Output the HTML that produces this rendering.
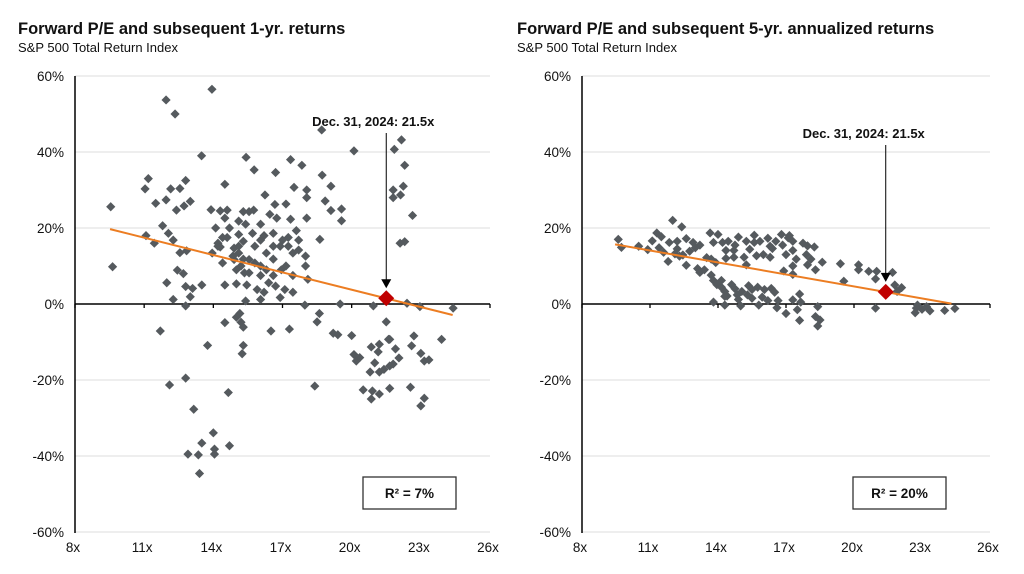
<!DOCTYPE html>
<html><head><meta charset="utf-8"><style>
body{margin:0;background:#fff;width:1024px;height:574px;overflow:hidden;font-family:"Liberation Sans",Arial,sans-serif}
svg{position:absolute;left:0;top:0}
</style></head><body>
<svg id="c" width="1024" height="574">
<text x="18" y="34" font-size="16.5" font-weight="bold" fill="#111">Forward P/E and subsequent 1-yr. returns</text>
<text x="18" y="52" font-size="13" fill="#111">S&amp;P 500 Total Return Index</text>
<text x="517" y="34" font-size="16.5" font-weight="bold" fill="#111">Forward P/E and subsequent 5-yr. annualized returns</text>
<text x="517" y="52" font-size="13" fill="#111">S&amp;P 500 Total Return Index</text>
</svg>
<script>
const xTicks=[8,11,14,17,20,23,26];
const yTicks=[60,40,20,0,-20,-40,-60];
const leftPE=[9.55,9.63,11.95,12.34,13.94,13.49,11.18,11.04,12.8,12.55,12.15,11.95,11.5,13.0,12.4,12.73,11.8,11.08,11.44,12.05,12.26,12.55,12.84,12.44,12.7,11.98,12.8,13.1,13.5,13.0,12.26,12.8,14.5,15.42,15.77,16.7,17.35,17.84,18.7,18.72,19.1,20.1,18.85,19.1,19.56,19.56,18.62,17.5,18.05,18.05,17.15,16.24,16.67,21.85,22.16,22.3,22.24,21.8,22.12,21.8,22.64,22.1,22.3,22.4,22.96,24.4,20.94,19.5,17.97,
14.2,14.3,14.6,14.9,15.1,15.3,15.55,15.8,16.05,16.3,16.6,16.9,17.15,17.45,17.7,18,18.1,14.5,14.7,15.1,15.55,15.75,16.05,16.45,16.75,17.35,17.6,18.05,14.1,13.9,14.3,14.6,15.3,15.4,16.2,16.6,17,14.9,15.2,15.55,16.05,16.4,16.7,17.1,17.45,16.9,16.2,16.05,15.4,15,14.5,15.45,15.9,16.6,15,14.2,13.95,15.1,15.7,16.05,17.25,17.7,18,17.45,16.95,14.4,15.3,15.8,16.3,16.6,17.25,14.85,15.1,14.4,15.35,
11.7,15.15,15.0,15.2,15.3,14.5,13.75,15.3,15.25,16.5,17.3,18.6,18.5,19.2,19.4,20.0,20.1,20.2,20.35,20.85,21.2,21.15,21,20.8,21.2,21.4,21.65,21.8,21.9,21.6,21.65,21.5,22.05,22.7,22.6,23,23.15,23.35,23.9,20.5,20.85,20.9,21.2,21.65,22.55,23.15,23.0,18.4,12.1,12.8,13.15,14.65,14.0,13.5,12.9,13.35,14.05,14.05,14.7,13.4];
const leftRet=[25.6,9.8,53.7,50,56.5,39,33,30.3,32.5,30.4,30.3,27.4,26.5,27,24.7,25.8,20.6,18,16,18.6,16.8,13.5,14,8.9,8,5.6,4.6,4.1,5,1.9,1.2,-0.5,31.5,38.6,35.3,34.6,38,36.5,45.8,33.9,31,40.3,27.1,24.6,25,21.9,17,30.7,30,28,26.3,28.7,26.2,40.7,43.2,36.5,31,30,28.7,28,23.3,16,16.4,0.2,-0.7,-1.1,-0.5,0,-0.3,
16,15,17.5,14.7,13.4,16.5,11.7,15.2,10,13.4,11.8,15.2,10,13.4,16.8,10,6.5,22.6,20,21.8,24.3,24.7,21,23.6,22.6,22.3,19.3,22.6,20,24.8,24.5,24.7,24.3,21,18,18.6,16.8,11.7,10,8.2,7.5,5.6,4.7,3.8,3.1,1.7,3.1,1.2,0.8,5.3,5,5,3.8,7.5,9,15.2,13.4,18.3,18.6,16.8,17.5,14.2,12.6,7.5,9,17.5,11.8,10.8,9,15.2,15.2,12.6,15.2,10.8,8.2,
-7.1,-2.5,-3.5,-4.8,-6.1,-4.9,-10.9,-10.9,-13.1,-7.1,-6.6,-2.5,-4.7,-7.7,-8.1,-8.3,-13.3,-15,-14.1,-11.3,-10.6,-12.6,-15.5,-17.9,-17.9,-17.2,-16.3,-15.8,-11.8,-9.3,-9.3,-4.7,-14.2,-8.4,-11,-13,-15,-14.7,-9.3,-22.6,-25,-22.9,-23.7,-22.2,-21.9,-24.8,-26.8,-21.6,-21.3,-19.5,-27.7,-23.3,-33.9,-36.6,-39.5,-39.7,-38.2,-39.5,-37.3,-44.6];
const rightPE=[9.6,9.74,12.0,12.4,11.3,11.5,11.1,11.4,11.85,12.2,12.6,12.9,13.2,12.75,12.45,12.1,11.8,12.6,13.1,13.2,13.4,13.7,13.65,14.0,13.8,14.2,14.45,14.75,14.7,14.35,15.25,15.6,15.85,15.4,15.7,16.0,15.25,16.3,16.55,16.8,17.15,16.85,17.3,17.0,17.3,17.45,17.75,17.95,18.25,17.9,18.1,17.95,18.3,18.6,16.9,17.3,17.3,16.3,14.7,15.15,14.35,19.4,20.2,20.2,20.65,21,21.7,19.55,20.95,21.8,21.9,22.1,20.95,22.75,22.7,23.0,23.2,23.35,24.0,24.45,22.8,
13.7,13.8,13.95,14.15,14.3,14.6,14.75,15.05,15.35,15.5,15.75,16.05,16.35,16.5,15.3,14.85,14.4,14.15,16.2,16.65,17.3,17.6,17.65,17.5,18.4,18.3,14.3,14.9,15.5,15.95,13.8,14.3,15,15.8,16.6,17.0,17.6,18.4,18.5,10.5,10.9,11.6,12.3,13.0,13.5,14.9,15.6,16.4,17.1,16.2,12.2,13.9];
const rightRet=[17,14.9,22,20.3,18.7,17.7,16.6,14.8,16.2,16.5,17.2,16.2,15.5,13.9,12.9,13.2,11.2,10.2,9.3,8.3,9,11.8,18.7,18.3,16.2,16.2,16.5,15.5,14.1,14.1,16.5,16.2,16.5,14.4,12.7,13.0,10.3,15.2,16.5,18.3,18,15.5,16.5,13.0,14.1,11.8,16.0,15.3,15.0,13.0,11.8,10.3,9,11,8.7,7.8,10,12.3,12.3,12.3,12.0,10.6,10.3,9,8.6,8.6,8.3,6,6.6,5.0,3.3,4.3,-1.1,-1.1,-2.3,-1.4,-0.7,-1.8,-1.7,-1.2,-0.3,
7.6,6.2,5.1,4.4,3.3,5.1,4.0,3.3,4.8,3.8,4.4,3.8,4.1,3.1,2.4,2.4,2.1,6.2,0.9,0.9,1.1,2.6,0.5,-1.5,-0.7,-3.3,2,1.2,1.5,1.8,0.5,-0.3,-0.5,-0.3,-1,-2.5,-4.3,-5.8,-4.2,15.2,14.3,13.6,12.6,14.8,12.2,17.6,18.1,14.6,17.4,17.3,14.5,10.9];
const leftTrendPE=[9.52,24.38], leftTrendRet=[19.7,-2.9];
const rightTrendPE=[9.46,24.3], rightTrendRet=[15.7,0.1];
const currentPE=[21.5,21.4], currentRet=[1.5,3.2];
const r2Labels=["R² = 7%","R² = 20%"];

const NS="http://www.w3.org/2000/svg";
const svg=document.getElementById('c');
function mk(tag,attrs,parent){const e=document.createElementNS(NS,tag);for(const k in attrs)e.setAttribute(k,attrs[k]);(parent||svg).appendChild(e);return e;}

function drawPanel(p){
  const g=mk('g',{});
  
  
  const sx=v=>p.x0+(v-8)/18*(p.x1-p.x0);
  const sy=v=>p.y0-(v/60)*(p.y0-p.yTop);
  yTicks.forEach(t=>{
    if(t!==0){const l=mk('line',{x1:p.x0,x2:p.x1,y1:sy(t),y2:sy(t),stroke:'#dcdcdc','stroke-width':1},g);
    
    }
    const tx=mk('text',{x:p.x0-11,y:sy(t)+5,'font-size':13.5,'text-anchor':'end',fill:'#111'},g);
    tx.textContent=t+'%';
    
    
  });
  xTicks.forEach(t=>{
    const tk=mk('line',{x1:sx(t),x2:sx(t),y1:sy(0),y2:sy(0)+4,stroke:'#000','stroke-width':1.3},g);
    
    
    const tx=mk('text',{x:sx(t)-2,y:p.yBot+19,'font-size':13.5,'text-anchor':'middle',fill:'#111'},g);
    tx.textContent=t+'x';
    
    
  });
  const ya=mk('line',{x1:p.x0,x2:p.x0,y1:p.yTop,y2:p.yBot,stroke:'#000','stroke-width':1.5},g);
  
  
  const xa=mk('line',{x1:p.x0,x2:p.x1,y1:sy(0),y2:sy(0),stroke:'#000','stroke-width':1.5},g);
  
  
  p.pe.forEach((v,i)=>{
    const cx=sx(v),cy=sy(p.ret[i]),r=4.6;
    const d=mk('polygon',{points:`${cx},${cy-r} ${cx+r},${cy} ${cx},${cy+r} ${cx-r},${cy}`,fill:'#555a5e'},g);
    
    
  });
  const tl=mk('line',{x1:sx(p.tPE[0]),y1:sy(p.tRet[0]),x2:sx(p.tPE[1]),y2:sy(p.tRet[1]),stroke:'#ec7d22','stroke-width':2},g);
  
  
  const cx=sx(p.cPE),cy=sy(p.cRet),r=8;
  const cur=mk('polygon',{points:`${cx},${cy-r} ${cx+r},${cy} ${cx},${cy+r} ${cx-r},${cy}`,fill:'#c00000'},g);
  
  
  const at=mk('text',{x:cx-p.annDx,y:p.annY,'font-size':13,'font-weight':'bold','text-anchor':'middle',fill:'#111'},g);
  at.textContent='Dec. 31, 2024:  21.5x';
  
  
  const al=mk('line',{x1:cx,x2:cx,y1:p.annY+7,y2:cy-18,stroke:'#000','stroke-width':1},g);
  
  
  const ah=mk('polygon',{points:`${cx-5},${cy-19} ${cx+5},${cy-19} ${cx},${cy-10}`,fill:'#000'},g);
  
  
  const bx=mk('rect',{x:p.boxX,y:477,width:93,height:32,fill:'#fff',stroke:'#333','stroke-width':1.3},g);
  
  
  const bt=mk('text',{x:p.boxX+46.5,y:498,'font-size':13.5,'font-weight':'bold','text-anchor':'middle',fill:'#111'},g);
  bt.textContent=p.r2;
  
  
}
drawPanel({name:'one-year',x0:75,x1:490,yTop:76,y0:304,yBot:533,pe:leftPE,ret:leftRet,tPE:leftTrendPE,tRet:leftTrendRet,cPE:currentPE[0],cRet:currentRet[0],annY:126,annDx:13,boxX:363,r2:r2Labels[0]});
drawPanel({name:'five-year',x0:582,x1:990,yTop:76,y0:304,yBot:533,pe:rightPE,ret:rightRet,tPE:rightTrendPE,tRet:rightTrendRet,cPE:currentPE[1],cRet:currentRet[1],annY:138,annDx:22,boxX:853,r2:r2Labels[1]});
</script>
</body></html>
